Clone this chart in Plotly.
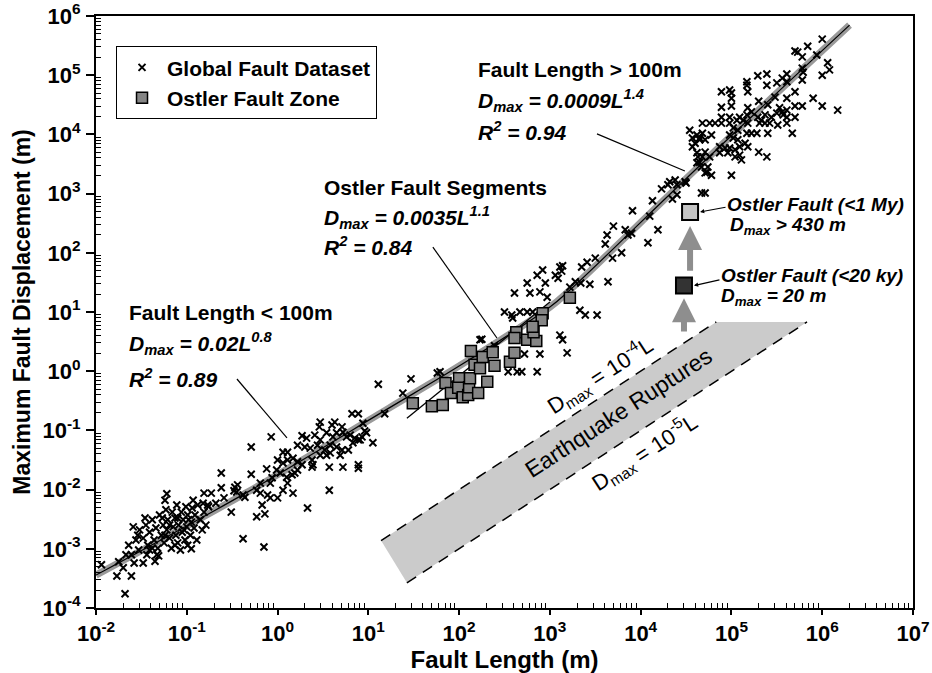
import numpy as np
import plotly.graph_objects as go

FONT = "Liberation Sans, Arial, Helvetica, sans-serif"

# ---------------- data (log10 values) ----------------
# Global Fault Dataset: log10 fault length (m), log10 max displacement (m)
global_length_log10 = [
    -0.62, -0.62, -0.44, -0.48, -0.38, -0.59, -1.22, -0.81, -0.73, -0.93, -0.51, -0.38, -0.95, -1.94, -1.77, -1.61,
    -1.68, -1.75, -1.67, -1.70, -1.58, -1.48, -1.35, -1.31, -1.59, -1.64, -1.53, -0.82, -0.76, -0.68, -1.56, -1.61,
    -1.52, -1.48, -1.45, -1.43, -1.41, -1.38, -1.36, -1.34, -1.32, -1.30, -1.28, -1.26, -1.25, -1.23, -1.22, -1.21,
    -1.19, -1.17, -1.16, -1.15, -1.13, -1.12, -1.11, -1.10, -1.09, -1.06, -1.05, -1.04, -1.02, -1.01, -1.00, -0.99,
    -0.96, -0.95, -0.94, -0.92, -0.91, -0.89, -0.88, -0.85, -0.83, -0.81, -0.79, -0.77, -1.46, -1.41, -1.33, -1.24,
    -1.07, -0.99, -1.19, -1.10, -1.03, -1.24, -1.13, -0.98, -1.27, -1.54, -1.44, -1.38,
    1.11, 1.18, 0.82, 0.89, 0.47, 0.46, 0.63, 0.60, 0.71, 0.94, 0.96, 0.98, -0.07, -0.29, 0.27, 0.32, 0.41, 0.47,
    0.54, 0.61, 0.65, 0.72, 0.76, 0.80, 0.85, 0.91, 0.93, 1.05, 0.22, 0.30, 0.36, 0.44, 0.52, 0.58, 0.65, 0.71,
    0.78, 0.83, 0.89, 0.47, 0.54, 0.58, 0.69, 0.06, 0.11, 0.00, 0.06, 0.11, 0.17, 0.22, 0.27, 0.38, 0.38, 0.39,
    0.57, 0.72, 0.89, 0.89, -0.29, -0.12, -0.06, -0.01, 0.03, 0.10, 0.16, 0.19, 0.22, -0.19, -0.23, -0.08, -0.47,
    -0.45, -0.36, -0.19, -0.11, -0.08, 0.00, 0.06, 0.11, 0.17, 0.57, -0.17, -0.14, -0.23, 0.33, -0.15,
    1.38, 1.47, 1.76, 1.79,
    2.92, 2.86, 2.75, 2.95, 2.61, 2.78, 2.89, 2.97, 2.50, 2.58, 2.59, 2.67, 2.75, 2.81, 2.23, 2.25, 2.39, 2.72,
    2.89, 2.54, 2.64, 2.69, 2.86,
    3.14, 3.13, 3.09, 3.35, 3.41, 3.50, 3.34, 3.44, 3.64, 3.69, 3.79, 3.61, 3.63, 3.70, 3.83, 3.86, 3.90, 3.91,
    4.10, 4.13, 4.19, 4.08, 4.23, 4.30, 4.32, 4.38, 4.40, 4.35, 4.40, 4.50, 4.67, 4.71, 4.54, 4.62, 4.65, 4.68,
    4.71, 4.57, 4.62, 4.71, 4.65, 4.73, 3.06, 3.11, 3.22, 3.28, 3.52, 3.33, 3.39, 3.11, 3.14, 3.19,
    6.00, 5.84, 5.70, 5.73, 5.78, 5.94, 6.06, 6.08, 6.00, 5.78, 5.79, 5.78, 5.29, 5.39, 5.39, 5.50, 5.56, 5.61,
    5.61, 5.17, 5.17, 5.18, 4.89, 4.98, 5.00, 5.00, 5.70, 5.48, 5.61, 5.90, 4.89, 5.00, 5.30, 5.40, 5.70, 5.78,
    6.00, 6.17, 5.18, 5.22, 5.17, 5.53, 5.56, 5.61, 4.89, 4.98, 5.09, 4.89, 5.29, 5.33, 5.37, 5.44, 5.50, 5.57,
    5.61, 5.70, 4.76, 4.82, 4.98, 5.06, 5.13, 5.18, 5.31, 5.37, 5.42, 5.51, 5.61, 4.68, 4.78, 5.02, 5.07, 5.17,
    5.22, 5.28, 5.40, 5.67, 4.57, 4.65, 4.60, 4.98, 5.02, 5.07, 5.15, 5.18, 4.87, 4.93, 4.98, 5.04, 5.09, 4.63,
    4.68, 4.76, 4.87, 4.96, 5.04, 5.11, 5.09, 5.30, 5.39, 4.62, 4.67, 4.74, 4.71, 4.78, 5.00, 4.49,
]
global_disp_log10 = [
    -1.72, -1.97, -1.92, -2.02, -2.09, -2.14, -2.07, -2.06, -2.06, -2.18, -2.38, -2.83, -3.00, -3.27, -3.46, -3.46,
    -3.76, -3.22, -3.10, -3.32, -3.24, -3.24, -3.21, -3.12, -2.63, -2.94, -3.02, -2.23, -2.29, -2.23, -2.85, -3.10,
    -2.68, -2.82, -2.60, -2.94, -2.72, -2.51, -2.85, -2.65, -2.99, -2.43, -2.77, -2.60, -2.90, -2.34, -2.68, -2.51,
    -2.82, -2.99, -2.38, -2.63, -2.48, -2.77, -2.26, -2.90, -2.60, -2.38, -2.72, -2.51, -2.85, -2.29, -2.63, -2.43,
    -2.77, -2.55, -2.31, -2.65, -2.43, -2.85, -2.26, -2.51, -2.68, -2.38, -2.60, -2.26, -2.48, -3.02, -3.10, -2.18,
    -3.02, -2.94, -2.60, -2.48, -2.68, -2.77, -2.94, -2.51, -2.48, -2.77, -3.10, -2.99,
    -0.22, -0.72, -0.72, -0.72, -0.86, -0.94, -0.86, -0.91, -0.94, -0.88, -1.01, -1.04, -1.11, -1.28, -1.09, -1.13,
    -1.08, -1.16, -1.04, -1.11, -1.04, -1.03, -1.11, -1.08, -1.13, -1.16, -1.11, -1.21, -1.25, -1.28, -1.30, -1.25,
    -1.33, -1.25, -1.28, -1.33, -1.33, -1.21, -1.16, -1.42, -1.42, -1.38, -1.42, -1.37, -1.37, -1.50, -1.55, -1.50,
    -1.47, -1.53, -1.58, -1.50, -1.62, -1.58, -1.62, -1.62, -1.58, -1.64, -1.74, -1.65, -1.80, -1.67, -1.72, -1.79,
    -1.75, -1.72, -1.67, -1.89, -2.01, -1.89, -1.96, -2.04, -2.13, -2.06, -2.09, -2.14, -2.14, -2.01, -1.89, -2.06,
    -2.01, -2.26, -2.41, -2.46, -2.31, -2.97,
    -0.37, -0.13, -0.03, -0.01,
    1.71, 1.62, 1.49, 1.49, 1.32, 1.32, 1.34, 1.25, 1.00, 0.95, 0.90, 1.00, 1.00, 1.00, 0.53, 0.54, 0.43, 0.29,
    0.29, -0.01, -0.01, -0.01, -0.01,
    1.78, 1.69, 1.57, 1.76, 1.84, 1.91, 1.49, 1.47, 1.51, 1.91, 2.00, 2.15, 2.30, 2.45, 2.39, 2.30, 2.33, 2.71,
    2.62, 2.88, 2.39, 2.17, 3.08, 3.15, 3.20, 3.23, 3.15, 2.91, 2.98, 3.18, 3.01, 3.01, 4.07, 3.99, 3.91, 4.19,
    3.91, 3.79, 3.69, 3.70, 3.53, 3.36, 1.62, 1.76, 1.42, 1.51, 0.95, 1.03, 0.95, 0.61, 0.53, 0.31,
    5.61, 5.49, 5.41, 5.39, 5.31, 5.34, 5.21, 5.09, 5.00, 5.12, 5.05, 4.92, 4.99, 5.02, 4.83, 4.87, 4.95, 5.02,
    4.89, 4.89, 4.83, 4.72, 4.72, 4.75, 4.70, 4.61, 4.72, 4.63, 4.61, 4.61, 4.46, 4.48, 4.56, 4.50, 4.48, 4.48,
    4.48, 4.41, 4.45, 4.38, 4.33, 4.45, 4.38, 4.41, 4.29, 4.29, 4.29, 4.19, 4.29, 4.24, 4.33, 4.29, 4.36, 4.33,
    4.29, 4.29, 4.19, 4.19, 4.19, 4.24, 4.24, 4.19, 4.19, 4.19, 4.19, 4.16, 4.19, 4.02, 3.99, 4.11, 4.07, 4.02,
    4.02, 4.02, 4.02, 4.02, 3.94, 3.94, 3.85, 3.99, 3.94, 3.91, 3.85, 3.79, 3.79, 3.77, 3.77, 3.74, 3.79, 3.62,
    3.62, 3.62, 3.69, 3.69, 3.62, 3.57, 3.65, 3.70, 3.62, 3.52, 3.45, 3.45, 3.35, 3.31, 3.31, 3.20,
]

# Ostler Fault Zone segments
ostler_length_log10 = [1.49, 1.70, 1.82, 1.85, 1.91, 2.00, 1.99, 2.04, 2.10, 2.11, 2.12, 2.21, 2.31, 2.13, 2.17,
                       2.26, 2.23, 2.37, 2.39, 2.56, 2.61, 2.63, 2.61, 2.75, 2.85, 2.82, 2.92, 2.91, 2.81, 3.22]
ostler_disp_log10 = [-0.54, -0.59, -0.57, -0.20, -0.37, -0.12, -0.28, -0.44, -0.40, -0.27, -0.12, -0.37, -0.18,
                     0.34, 0.11, 0.24, 0.05, 0.32, 0.09, 0.16, 0.31, 0.66, 0.56, 0.53, 0.51, 0.66, 0.98, 0.86,
                     0.75, 1.24]

# Combined global regression curve (m)
fit_length = [0.01, 0.45, 17, 100, 1000, 1660, 4.8e4, 2.0e6]
fit_disp = [3.6e-4, 8.8e-3, 0.24, 1.22, 12.1, 23.5, 3290, 7.0e5]

# Ostler segments regression (m)
ostler_fit_length = [26.6, 1000]
ostler_fit_disp = [0.16, 14.8]

# Ostler fault total values
ostler_1my_length, ostler_1my_disp = 3.5e4, 490
ostler_20ky_length, ostler_20ky_disp = 3.0e4, 28

# Earthquake rupture band, Dmax = c * L
band_upper_coef = 1e-4
band_lower_coef = 1e-5
band_upper_length = [13.8, 6.8e4]
band_lower_length = [26.6, 6.8e5]

# label leader lines (L, D)
leader_lengths = [[0.357, 1.27], [51.4, 261], [3300, 3.07e4]]
leader_disps = [[0.738, 0.0745], [125, 3.64], [1.02e4, 2410]]

x_tick_exps = list(range(-2, 8))
y_tick_exps = list(range(-4, 7))

# ---------------- figure ----------------
fig = go.Figure()

bu = [band_upper_coef * L for L in band_upper_length]
bl = [band_lower_coef * L for L in band_lower_length]
poly_x = [band_upper_length[0], band_upper_length[1], band_lower_length[1], band_lower_length[0], band_upper_length[0]]
poly_y = [bu[0], bu[1], bl[1], bl[0], bu[0]]
fig.add_trace(go.Scatter(x=poly_x, y=poly_y, mode="lines", fill="toself", fillcolor="#cbcbcb",
                         line=dict(width=0), hoverinfo="skip", showlegend=False))
for xs, ys in ((band_upper_length, bu), (band_lower_length, bl)):
    fig.add_trace(go.Scatter(x=xs, y=ys, mode="lines", line=dict(color="black", width=1.5, dash="11px,8px"),
                             hoverinfo="skip", showlegend=False))

fig.add_trace(go.Scatter(x=fit_length, y=fit_disp, mode="lines", line=dict(color="#9a9a9a", width=7, shape="spline"),
                         hoverinfo="skip", showlegend=False))

fig.add_trace(go.Scatter(x=[10 ** v for v in global_length_log10], y=[10 ** v for v in global_disp_log10],
                         mode="markers", name="<b>Global Fault Dataset</b>",
                         marker=dict(symbol="x-thin", size=7, color="black", line=dict(color="black", width=2))))

fig.add_trace(go.Scatter(x=fit_length, y=fit_disp, mode="lines", line=dict(color="black", width=1.2, shape="spline"),
                         hoverinfo="skip", showlegend=False))
fig.add_trace(go.Scatter(x=ostler_fit_length, y=ostler_fit_disp, mode="lines", line=dict(color="black", width=1.3),
                         hoverinfo="skip", showlegend=False))

for lx, ly in zip(leader_lengths, leader_disps):
    fig.add_trace(go.Scatter(x=lx, y=ly, mode="lines", line=dict(color="black", width=1.2),
                             hoverinfo="skip", showlegend=False))

fig.add_trace(go.Scatter(x=[10 ** v for v in ostler_length_log10], y=[10 ** v for v in ostler_disp_log10],
                         mode="markers", name="<b>Ostler Fault Zone</b>",
                         marker=dict(symbol="square", size=11, color="#858585", line=dict(color="black", width=1.5))))

fig.add_trace(go.Scatter(x=[ostler_1my_length], y=[ostler_1my_disp], mode="markers", showlegend=False,
                         marker=dict(symbol="square", size=16, color="#c4c4c4", line=dict(color="black", width=2))))
fig.add_trace(go.Scatter(x=[ostler_20ky_length], y=[ostler_20ky_disp], mode="markers", showlegend=False,
                         marker=dict(symbol="square", size=16, color="#333333", line=dict(color="black", width=2))))

lg = np.log10
ann = []


def label(text, xp, yp, size=21, angle=0, xanchor="left"):
    ann.append(dict(text=text, x=xp, y=yp, xref="paper", yref="paper", xanchor=xanchor, yanchor="middle",
                    showarrow=False, textangle=angle, font=dict(family=FONT, size=size, color="black")))


label("<b>Fault Length &lt; 100m</b>", 0.0380, 0.500)
label("<b><i>D<sub>max</sub> = 0.02L<sup>0.8</sup></i></b>", 0.0380, 0.446)
label("<b><i>R<sup>2</sup> = 0.89</i></b>", 0.0380, 0.389)
label("<b>Ostler Fault Segments</b>", 0.2765, 0.7095)
label("<b><i>D<sub>max</sub> = 0.0035L<sup>1.1</sup></i></b>", 0.2765, 0.659)
label("<b><i>R<sup>2</sup> = 0.84</i></b>", 0.2765, 0.6115)
label("<b>Fault Length &gt; 100m</b>", 0.4650, 0.9088)
label("<b><i>D<sub>max</sub> = 0.0009L<sup>1.4</sup></i></b>", 0.4650, 0.858)
label("<b><i>R<sup>2</sup> = 0.94</i></b>", 0.4650, 0.8057)
label("<b><i>Ostler Fault (&lt;1 My)</i></b>", 0.7700, 0.6824, size=19)
label("<b><i>D<sub>max</sub> &gt; 430 m</i></b>", 0.7740, 0.6453, size=19)
label("<b><i>Ostler Fault (&lt;20 ky)</i></b>", 0.7620, 0.5625, size=19)
label("<b><i>D<sub>max</sub> = 20 m</i></b>", 0.7620, 0.5253, size=19)
label("D<sub>max</sub> = 10<sup>-4</sup>L", 0.617, 0.392, size=22, angle=-33, xanchor="center")
label("Earthquake Ruptures", 0.639, 0.329, size=23, angle=-33, xanchor="center")
label("D<sub>max</sub> = 10<sup>-5</sup>L", 0.671, 0.2635, size=22, angle=-33, xanchor="center")

# thick grey arrows
ann.append(dict(x=lg(ostler_20ky_length), y=lg(17), ax=lg(ostler_20ky_length), ay=lg(4.4), xref="x", yref="y",
                axref="x", ayref="y", showarrow=True, arrowhead=2, arrowsize=0.8, arrowwidth=6,
                arrowcolor="#8e8e8e", text=""))
ann.append(dict(x=lg(ostler_1my_length), y=lg(284), ax=lg(ostler_1my_length), ay=lg(47), xref="x", yref="y",
                axref="x", ayref="y", showarrow=True, arrowhead=2, arrowsize=0.8, arrowwidth=6,
                arrowcolor="#8e8e8e", text=""))
# small pointer arrows
ann.append(dict(x=lg(ostler_1my_length) + 0.11, y=lg(ostler_1my_disp), ax=27, ay=-5, xref="x", yref="y",
                showarrow=True, arrowhead=2, arrowsize=0.7, arrowwidth=1.2, arrowcolor="black", text=""))
ann.append(dict(x=lg(ostler_20ky_length) + 0.11, y=lg(ostler_20ky_disp), ax=27, ay=-6, xref="x", yref="y",
                showarrow=True, arrowhead=2, arrowsize=0.7, arrowwidth=1.2, arrowcolor="black", text=""))

tick_font = dict(family=FONT, size=22, color="black", weight="bold")
axis_common = dict(type="log", showgrid=False, zeroline=False, showline=True, linecolor="black", linewidth=2,
                   mirror=True, ticks="outside", tickwidth=2, tickcolor="black", automargin=False,
                   ticklabeloverflow="allow", tickfont=tick_font)

fig.update_layout(
    width=932, height=673,
    margin=dict(l=96, r=19, t=16, b=65, autoexpand=False),
    paper_bgcolor="white", plot_bgcolor="white",
    font=dict(family=FONT, color="black"),
    xaxis=dict(**axis_common, range=[-2, 7], tickmode="array", ticklen=5,
               tickvals=[10.0 ** k for k in x_tick_exps],
               ticktext=[f"<b>10<sup>{k}</sup></b>" for k in x_tick_exps],
               ticklabelstandoff=0,
               minor=dict(ticks="inside", ticklen=5, tickwidth=1, tickcolor="black",
                          tickvals=[m * 10.0 ** k for k in x_tick_exps[:-1] for m in range(2, 10)]),
               title=dict(text="<b>Fault Length (m)</b>", font=dict(family=FONT, size=24), standoff=9)),
    yaxis=dict(**axis_common, range=[-4, 6], tickmode="array", ticklen=8,
               tickvals=[10.0 ** k for k in y_tick_exps],
               ticktext=[f"<b>10<sup>{k}</sup></b>" for k in y_tick_exps],
               ticklabelstandoff=1,
               minor=dict(ticks="inside", ticklen=5, tickwidth=1, tickcolor="black",
                          tickvals=[m * 10.0 ** k for k in y_tick_exps[:-1] for m in range(2, 10)]),
               title=dict(text="<b>Maximum Fault Displacement (m)</b>", font=dict(family=FONT, size=23), standoff=5)),
    legend=dict(x=0.0245, y=0.949, xanchor="left", yanchor="top", bgcolor="white", bordercolor="black",
                borderwidth=1, font=dict(family=FONT, size=21, color="black"), itemwidth=40),
    annotations=ann,
)

# remove the browser's default 8px page margin so the figure fills the window exactly
fig.write_html("out.html", config={"displayModeBar": False},
               post_script="document.body.style.margin='0px';")
